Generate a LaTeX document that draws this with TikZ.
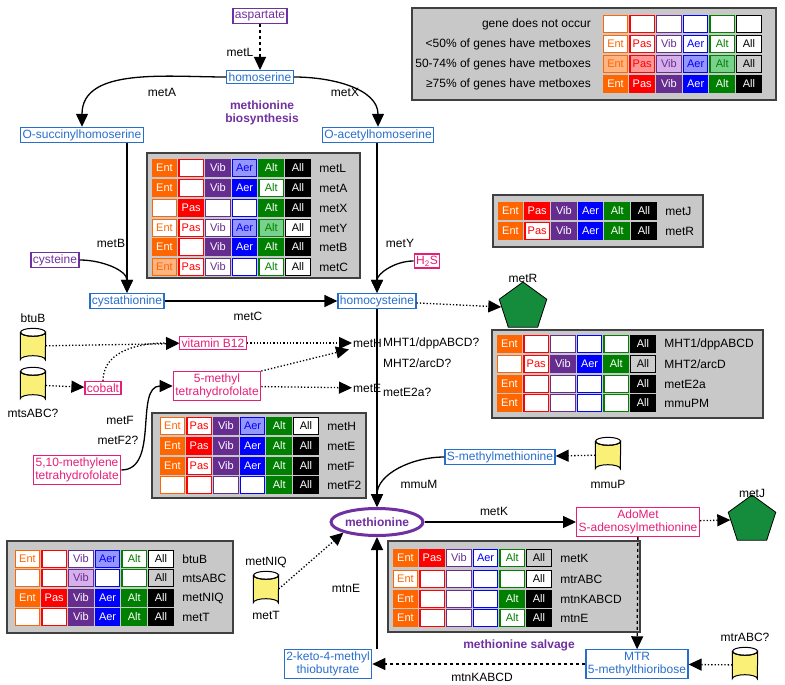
\documentclass[tikz,border=0pt]{standalone}
\usepackage{fontspec}
\setmainfont{Liberation Sans}
\usetikzlibrary{shapes.geometric,arrows.meta,calc}
\definecolor{c1}{RGB}{255,102,0}\definecolor{l1}{RGB}{255,180,130}
\definecolor{c2}{RGB}{255,0,0}\definecolor{l2}{RGB}{255,150,150}
\definecolor{c3}{RGB}{102,45,145}\definecolor{l3}{RGB}{215,175,235}
\definecolor{c4}{RGB}{0,0,255}\definecolor{l4}{RGB}{150,150,255}
\definecolor{c5}{RGB}{0,128,0}\definecolor{l5}{RGB}{120,210,140}
\definecolor{c6}{RGB}{0,0,0}\definecolor{l6}{RGB}{205,205,205}
\definecolor{bgray}{RGB}{200,200,200}
\definecolor{mblue}{RGB}{40,110,205}
\definecolor{mpink}{RGB}{230,30,120}
\definecolor{mpurp}{RGB}{112,48,160}
\definecolor{cyl}{RGB}{250,240,120}
\definecolor{pent}{RGB}{20,140,60}
\expandafter\def\csname nm1\endcsname{Ent}
\expandafter\def\csname nm2\endcsname{Pas}
\expandafter\def\csname nm3\endcsname{Vib}
\expandafter\def\csname nm4\endcsname{Aer}
\expandafter\def\csname nm5\endcsname{Alt}
\expandafter\def\csname nm6\endcsname{All}
\tikzset{
 cell/.style={minimum width=24.5pt,minimum height=17pt,inner sep=0pt,line width=1.2pt,font=\fontsize{11}{12}\selectfont},
 lab/.style={font=\fontsize{12}{14}\selectfont,inner sep=1pt},
 tbox/.style={fill=bgray,draw=black!75,line width=1.2pt},
 bb/.style={draw=mblue,text=mblue,line width=1.2pt,inner sep=2pt,align=center,font=\fontsize{12}{13.5}\selectfont},
 pb/.style={bb,draw=mpink,text=mpink},
 ub/.style={bb,draw=mpurp,text=mpurp},
 cylnd/.style={rectangle,minimum width=25pt,minimum height=35pt,inner sep=0pt},
 pentn/.style={regular polygon,regular polygon sides=5,fill=pent,draw=black,line width=0.8pt,minimum size=50pt,inner sep=0pt},
 arr/.style={line width=1.3pt,-{Triangle[length=13pt,width=12pt]}},
 darr/.style={arr,dashed},
 oarr/.style={arr,dotted},
}
\newcommand\cylshape[1]{%
 \draw[fill=cyl,line width=1pt] ($(#1.north west)+(0,4)$) -- ($(#1.south west)+(0,-4)$)
   arc[start angle=180,end angle=0,x radius=12.5pt,y radius=4pt]
   -- ($(#1.north east)+(0,4)$) arc[start angle=0,end angle=-180,x radius=12.5pt,y radius=4pt] -- cycle;
 \draw[line width=1pt] ($(#1.north)+(0,4)$) ellipse[x radius=12.5pt,y radius=4pt];}
\newcommand\cellrow[4]{%
 \foreach \c [count=\i] in {#3}{%
  \pgfmathsetmacro\xx{#1+(\i-1)*26.7+12.5}%
  \ifcase\c
   \node[cell,draw=c\i,fill=white] at (\xx,#2) {};
  \or
   \node[cell,draw=c\i,fill=white,text=c\i] at (\xx,#2) {\csname nm\i\endcsname};
  \or
   \node[cell,draw=c\i,fill=l\i,text=c\i] at (\xx,#2) {\csname nm\i\endcsname};
  \or
   \node[cell,draw=c\i,fill=c\i,text=white] at (\xx,#2) {\csname nm\i\endcsname};
  \fi}%
 \node[lab,anchor=west] at (#1+6*26.7+6,#2) {#4};}
\begin{document}
\begin{tikzpicture}[x=1pt,y=-1pt]
\useasboundingbox (0,0) rectangle (785,685);
% legend
\draw[tbox] (412,8) rectangle (776,100);
\node[lab,anchor=east] at (592,24) {gene does not occur};
\node[lab,anchor=east] at (592,44) {<50\% of genes have metboxes};
\node[lab,anchor=east] at (592,64) {50-74\% of genes have metboxes};
\node[lab,anchor=east] at (592,84) {≥75\% of genes have metboxes};
\cellrow{603}{24}{0,0,0,0,0,0}{}
\cellrow{603}{44}{1,1,1,1,1,1}{}
\cellrow{603}{64}{2,2,2,2,2,2}{}
\cellrow{603}{84}{3,3,3,3,3,3}{}
% biosynthesis table
\draw[tbox] (147,153) rectangle (360,278);
\cellrow{152}{168}{3,0,3,2,3,3}{metL}
\cellrow{152}{188}{3,0,3,3,1,3}{metA}
\cellrow{152}{208}{0,3,0,0,3,3}{metX}
\cellrow{152}{228}{1,1,1,2,2,1}{metY}
\cellrow{152}{247}{3,0,3,3,3,3}{metB}
\cellrow{152}{267}{2,1,1,0,1,1}{metC}
% metJ table
\draw[tbox] (493,195) rectangle (703,247);
\cellrow{498}{211}{3,3,3,3,3,3}{metJ}
\cellrow{498}{231}{3,1,3,3,3,3}{metR}
% MHT table
\draw[tbox] (492,330) rectangle (763,418);
\cellrow{497}{344}{3,0,0,0,0,3}{MHT1/dppABCD}
\cellrow{497}{364}{0,1,3,3,3,2}{MHT2/arcD}
\cellrow{497}{384}{3,0,0,0,0,3}{metE2a}
\cellrow{497}{403}{3,0,0,0,0,3}{mmuPM}
% metH table
\draw[tbox] (152,413) rectangle (366,498);
\cellrow{160}{426}{1,1,3,2,3,1}{metH}
\cellrow{160}{446}{3,3,3,3,3,3}{metE}
\cellrow{160}{466}{3,1,3,3,3,3}{metF}
\cellrow{160}{485}{0,0,0,0,3,3}{metF2}
% bottom-left table
\draw[tbox] (7,541) rectangle (233,633);
\cellrow{15}{559}{1,0,1,2,1,1}{btuB}
\cellrow{15}{578}{0,0,2,0,0,2}{mtsABC}
\cellrow{15}{598}{3,3,3,3,3,3}{metNIQ}
\cellrow{15}{617}{0,0,3,3,3,3}{metT}
% metK table
\draw[tbox] (388,541) rectangle (640,632);
\cellrow{393}{558}{3,3,1,1,1,2}{metK}
\cellrow{393}{579}{1,0,0,0,0,1}{mtrABC}
\cellrow{393}{599}{3,0,0,0,3,3}{mtnKABCD}
\cellrow{393}{618}{3,0,0,0,1,3}{mtnE}
% metabolites
\node[ub] (asp) at (260,16) {aspartate};
\node[bb] (hs) at (260,77) {homoserine};
\node[lab,text=mpurp,font=\fontsize{12}{13.5}\selectfont\bfseries,align=center] (bios) at (262,113) {methionine\\biosynthesis};
\node[bb] (os) at (82,135) {O-succinylhomoserine};
\node[bb] (oa) at (378,135) {O-acetylhomoserine};
\node[ub] (cys) at (55,260) {cysteine};
\node[pb] (h2s) at (427,261) {H\textsubscript{2}S};
\node[bb] (cy) at (127,301) {cystathionine};
\node[bb] (hc) at (377,301) {homocysteine};
\node[pentn] (pR) at (523,307) {};
\node[lab] (lR) at (523,278) {metR};
\node[pb] (b12) at (213,343) {vitamin B12};
\node[pb] (cob) at (103,388) {cobalt};
\node[pb] (mthf) at (217,386) {5-methyl\\tetrahydrofolate};
\node[pb] (mlthf) at (77,470) {5,10-methylene\\tetrahydrofolate};
\node[lab,anchor=west] (metH) at (352,343) {metH};
\node[lab,anchor=west] (metE) at (352,388) {metE};
\node[cylnd] (cb) at (33,346) {};
\node[lab] (lb) at (33,318) {btuB};
\node[cylnd] (cm) at (33,385) {};
\node[lab] (lm) at (33,413) {mtsABC?};
\node[ellipse,draw=mpurp,line width=3pt,text=mpurp,font=\fontsize{12}{13.5}\selectfont\bfseries,minimum width=92pt,minimum height=27pt,inner sep=0pt] (met) at (377,522) {methionine};
\node[bb] (sm) at (500,457) {S-methylmethionine};
\node[cylnd] (cp) at (608,455) {};
\node[lab] (lp) at (608,484) {mmuP};
\node[pb] (ado) at (638,522) {AdoMet\\S-adenosylmethionine};
\node[pentn] (pJ) at (752,520) {};
\node[lab] (lJ) at (752,493) {metJ};
\node[cylnd] (ct) at (266,589) {};
\node[lab] (lq) at (266,562) {metNIQ};
\node[lab] (lt) at (266,615) {metT};
\node[bb] (mtr) at (637,664) {MTR\\5-methylthioribose};
\node[bb] (kt) at (328,664) {2-keto-4-methyl\\thiobutyrate};
\node[cylnd] (cr) at (745,665) {};
\node[lab] (lr) at (745,637) {mtrABC?};
\node[lab,text=mpurp,font=\fontsize{12}{13.5}\selectfont\bfseries] (salv) at (519,645) {methionine salvage};
\foreach \n in {cb,cm,cp,ct,cr}{\cylshape{\n}}
% labels
\node[lab] at (240,52) {metL};
\node[lab] at (162,92) {metA};
\node[lab] at (345,92) {metX};
\node[lab] at (111,243) {metB};
\node[lab] at (400,243) {metY};
\node[lab] at (248,316) {metC};
\node[lab,anchor=west] at (382,343) {MHT1/dppABCD?};
\node[lab,anchor=west] at (382,363) {MHT2/arcD?};
\node[lab,anchor=west] at (382,392) {metE2a?};
\node[lab] at (120,420) {metF};
\node[lab] at (118,440) {metF2?};
\node[lab] at (419,484) {mmuM};
\node[lab] at (494,511) {metK};
\node[lab] at (346,588) {mtnE};
\node[lab] at (482,677) {mtnKABCD};
% connectors
\draw[darr] (asp) -- (hs);
\draw[arr] (hs.west) to[out=180,in=90] (os.north);
\draw[arr] (hs.east) to[out=0,in=90] (oa.north);
\draw[arr] (os.south -| cy.north) -- (cy.north);
\draw[arr] (cys.east) to[out=0,in=90] (cy.north);
\draw[arr] (oa.south -| hc.north) -- (hc.north);
\draw[arr] (h2s.west) to[out=180,in=90] (hc.north);
\draw[arr] (cy) -- (hc);
\draw[oarr] (hc) -- (pR.west);
\draw[oarr] (cb) -- (b12);
\draw[oarr] (b12) -- (metH);
\draw[oarr] (cm) -- (cob);
\draw[oarr] (cob.north) to[out=90,in=180] (b12.west);
\draw[oarr] (mthf) -- (metE);
\draw[oarr] (mthf.north east) -- ($(metH.south west)+(-3,1)$);
\draw[arr] (mlthf.east) to[out=0,in=180] (mthf.west);
\draw[arr] (hc) -- (met);
\draw[arr] (sm.west) to[out=180,in=90] (met.north);
\draw[oarr] (cp) -- (sm);
\draw[arr] (met) -- (ado);
\draw[oarr] (ado) -- (pJ.west);
\draw[oarr] (ct.east) -- (met.south west);
\draw[darr] (ado) -- (mtr);
\draw[oarr] (cr) -- (mtr);
\draw[darr] (mtr) -- (kt);
\draw[arr] (kt.north -| met.south) -- (met.south);
\end{tikzpicture}
\end{document}
